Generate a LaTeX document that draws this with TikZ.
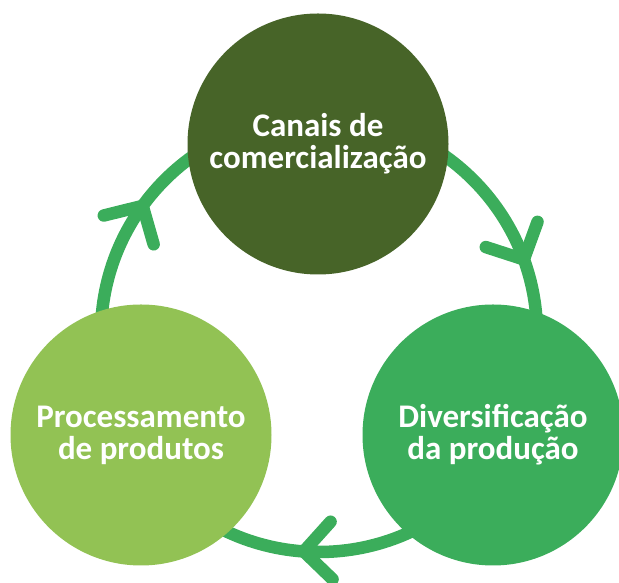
\documentclass[tikz,border=0pt]{standalone}
\usepackage{fontspec}
\setmainfont{Carlito}

\definecolor{verdeEscuro}{RGB}{71,100,40}
\definecolor{verdeClaro}{RGB}{146,194,84}
\definecolor{verdeMedio}{RGB}{59,173,91}

\begin{document}
\begin{tikzpicture}[
    x=1pt, y=1pt,
    etapa/.style={circle, minimum size=261pt, inner sep=0pt, align=center, text=white,
        font=\fontsize{33}{32}\selectfont\bfseries}, % Estilo das etapas
    ciclo/.style={draw=verdeMedio, line width=12.5pt}, % Estilo do anel
    seta/.style={ciclo, line cap=round, line join=round} % Estilo das pontas
    ]
    \useasboundingbox (0,0) rectangle (619,583);

    % Anel do ciclo
    \coordinate (O) at (319,249);
    \draw[ciclo] (O) circle[radius=218];

    % Pontas das setas (sentido horario)
    \begin{scope}[shift={(O)}]
        \foreach \a in {20,144,266}
            \draw[seta] (\a:218) ++(\a+50:40) -- (\a:218) -- ++(\a+142:40);
    \end{scope}

    % Etapas
    \node[etapa, fill=verdeEscuro] (canais) at (318,439) {Canais de\\comercialização};
    \node[etapa, fill=verdeMedio] (diversificacao) at (493,148) {Diversificação\\da produção};
    \node[etapa, fill=verdeClaro] (processamento) at (141,148) {Processamento\\de produtos};

\end{tikzpicture}
\end{document}
